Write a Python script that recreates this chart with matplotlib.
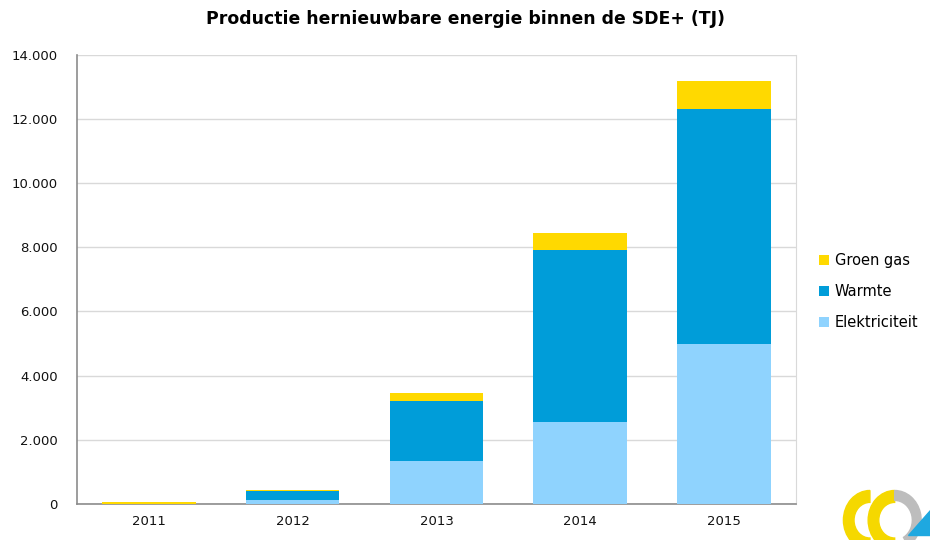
import matplotlib
matplotlib.use('Agg')
import matplotlib.pyplot as plt
import numpy as np
from matplotlib.patches import Wedge, Polygon

years = ['2011', '2012', '2013', '2014', '2015']
elektriciteit = [5, 120, 1350, 2550, 4980]
warmte = [10, 270, 1855, 5350, 7320]
groen_gas = [40, 45, 250, 530, 870]

col_elek = '#8fd3fe'
col_warmte = '#009dd9'
col_gas = '#ffd900'

plt.rcParams['font.family'] = ['DejaVu Sans']

fig = plt.figure(figsize=(9.3, 5.4), dpi=100)
ax = fig.add_axes([0.0828, 0.0667, 0.773, 0.832])

x = np.arange(len(years))
w = 0.65
bottom2 = np.array(elektriciteit)
bottom3 = bottom2 + np.array(warmte)
ax.bar(x, elektriciteit, w, color=col_elek, label='Elektriciteit', zorder=3)
ax.bar(x, warmte, w, bottom=bottom2, color=col_warmte, label='Warmte', zorder=3)
ax.bar(x, groen_gas, w, bottom=bottom3, color=col_gas, label='Groen gas', zorder=3)

ax.set_xlim(-0.5, len(years) - 0.5)
ax.set_ylim(0, 14000)
yt = np.arange(0, 14001, 2000)
ax.set_yticks(yt)
ax.set_yticklabels(['{:,}'.format(v).replace(',', '.') for v in yt])
ax.set_xticks(x)
ax.set_xticklabels(years)
ax.tick_params(axis='both', length=0, labelsize=9.5, colors='#111111')
ax.tick_params(axis='y', pad=14)
ax.tick_params(axis='x', pad=8)
ax.grid(axis='y', color='#d9d9d9', linewidth=1, zorder=0)

for side in ['left', 'bottom']:
    ax.spines[side].set_color('#8c8c8c')
    ax.spines[side].set_linewidth(1.2)
ax.spines['right'].set_color('#d9d9d9')
ax.spines['top'].set_visible(False)

handles, labels = ax.get_legend_handles_labels()
fig.legend(handles[::-1], labels[::-1], loc='center left', bbox_to_anchor=(0.866, 0.46),
           frameon=False, fontsize=10.5, handlelength=0.7, handleheight=0.7,
           handletextpad=0.4, labelspacing=1.1)

fig.text(0.5, 0.965, 'Productie hernieuwbare energie binnen de SDE+ (TJ)',
         ha='center', va='center', fontsize=12.4, fontweight='bold')

# rough logo in the corner
lax = fig.add_axes([0.905, 0.0, 0.095, 0.11])
lax.set_xlim(0, 10)
lax.set_ylim(0, 6)
lax.axis('off')
lax.add_patch(Wedge((3.2, 2.0), 3.0, 90, 270, width=1.2, color='#f5d800'))
lax.add_patch(Wedge((6.0, 2.0), 3.0, 90, 270, width=1.2, color='#f5d800'))
lax.add_patch(Wedge((6.0, 2.0), 3.0, -60, 90, width=1.0, color='#bdbdbd'))
lax.add_patch(Polygon([[7.5, 0.5], [10, 0.5], [10, 3.0]], color='#1ea8e0'))

fig.savefig('out.png', dpi=100)
